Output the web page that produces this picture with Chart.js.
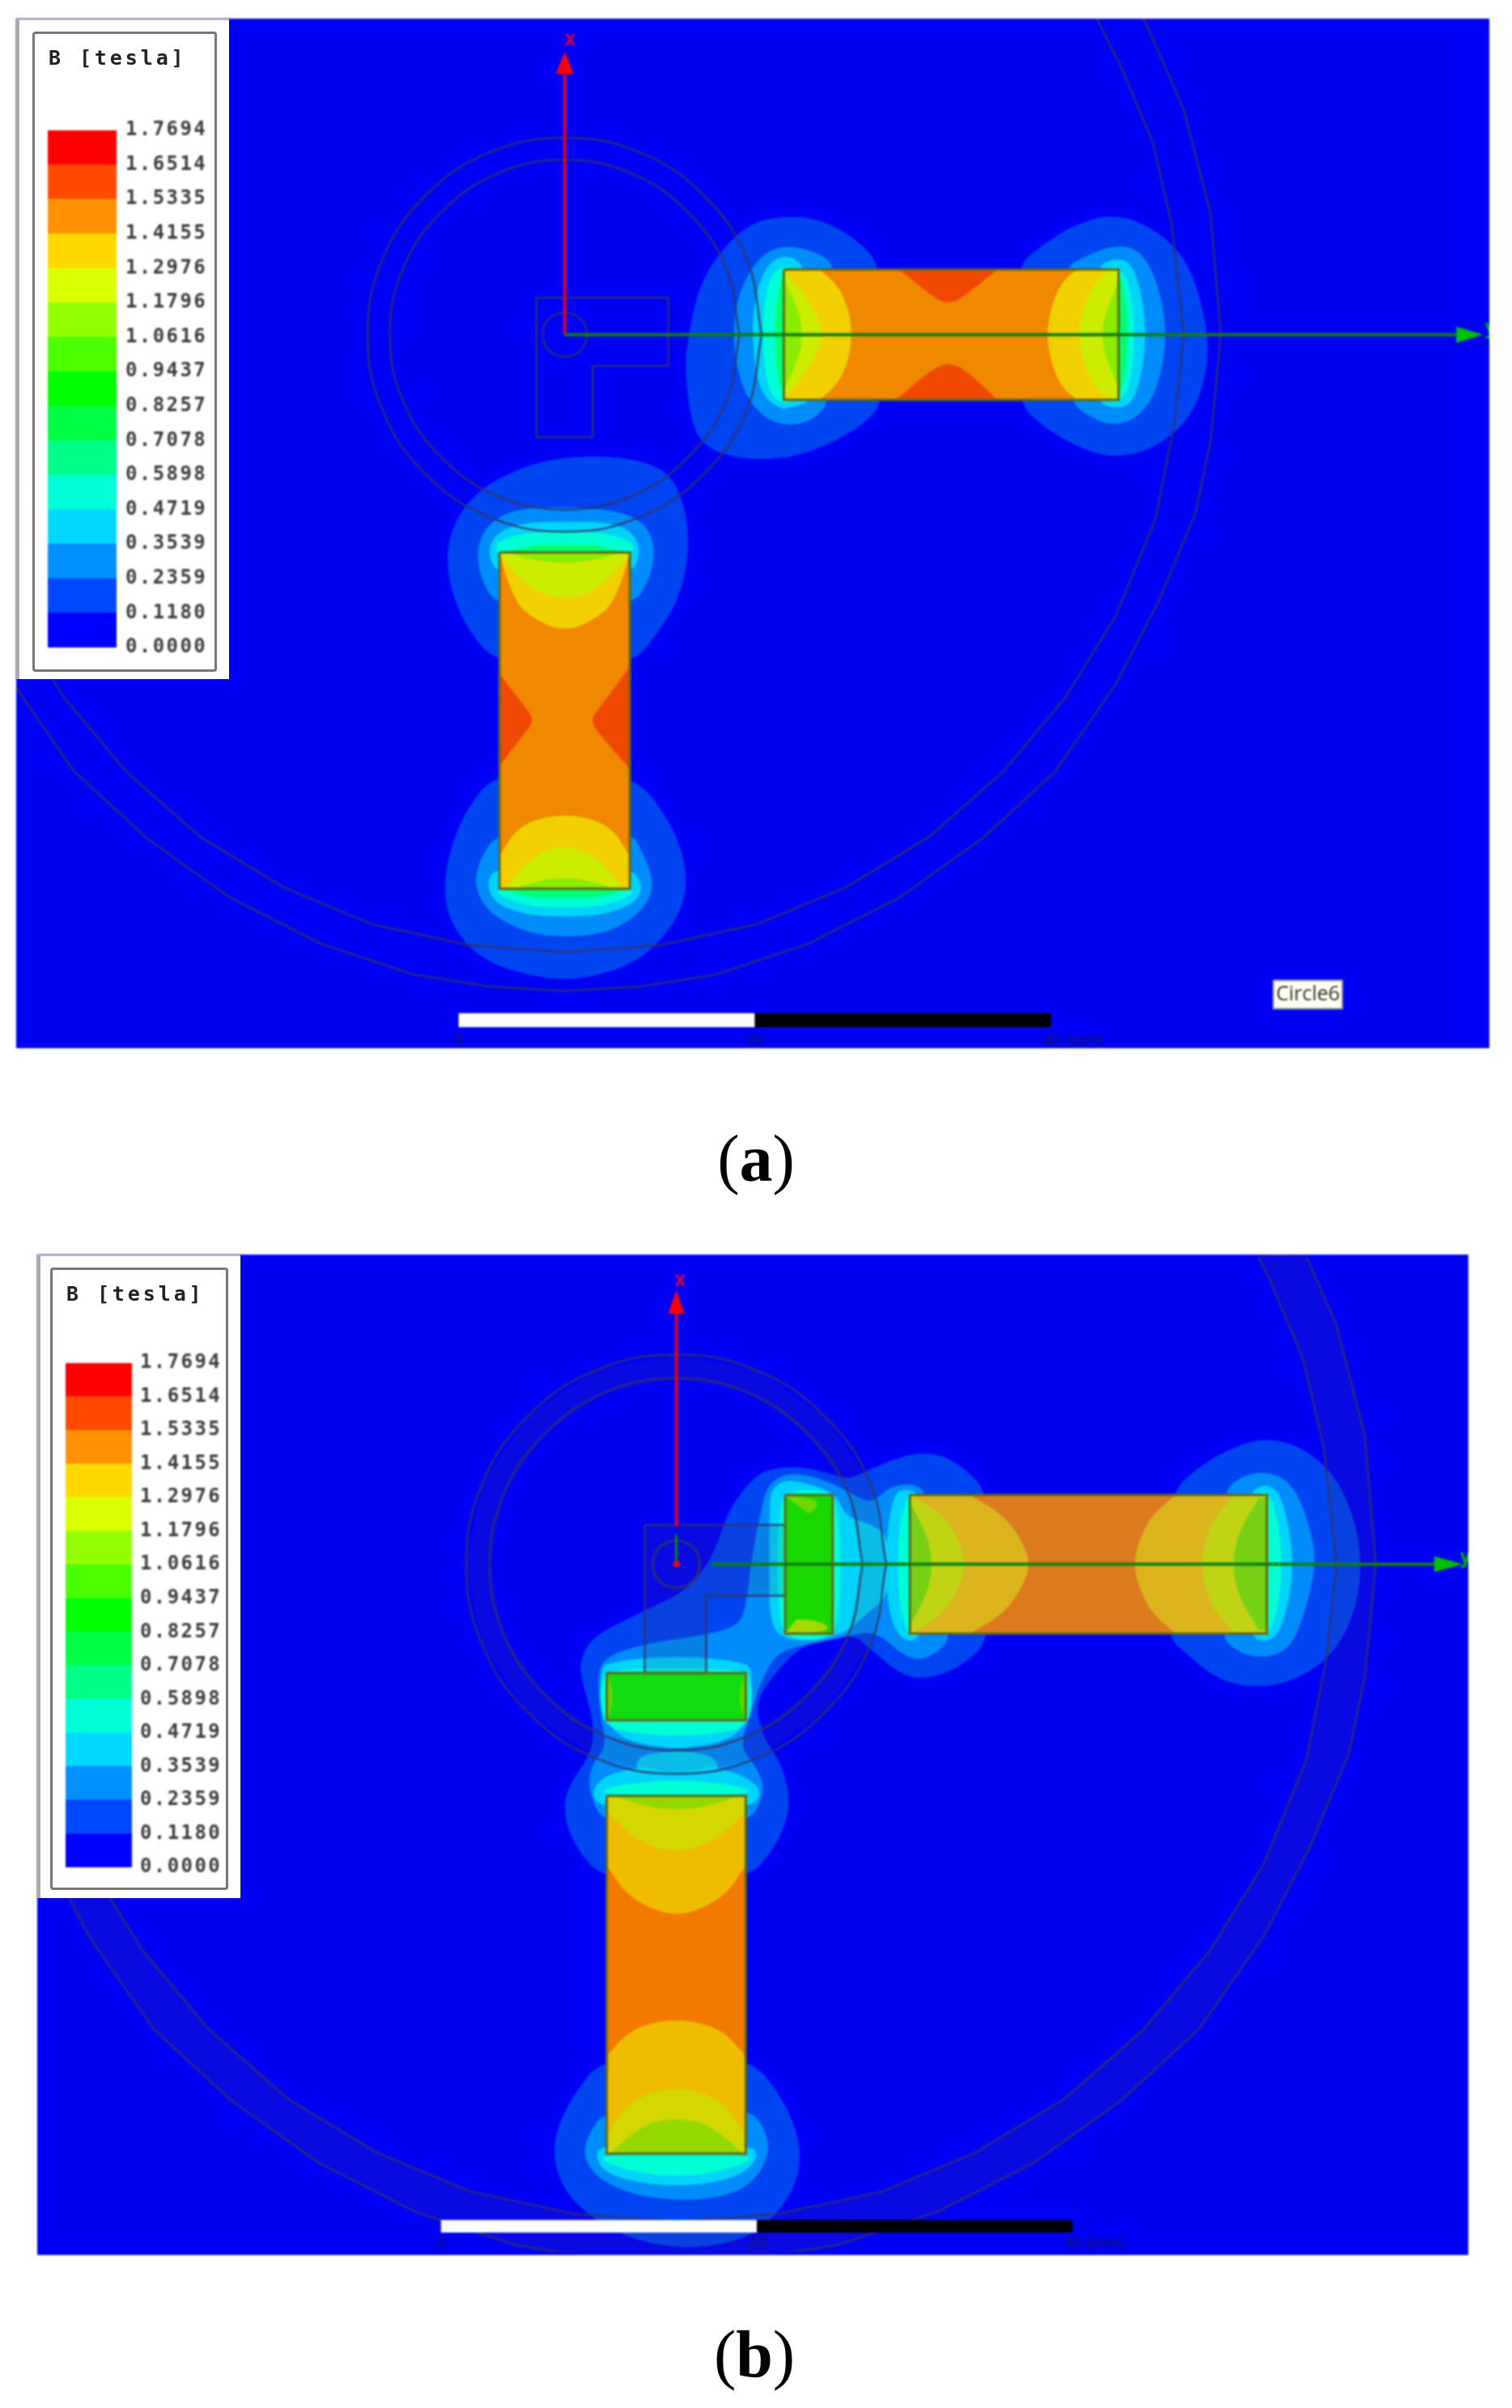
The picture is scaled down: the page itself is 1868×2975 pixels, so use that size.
<!DOCTYPE html>
<html><head><meta charset="utf-8">
<script src="https://cdn.jsdelivr.net/npm/chart.js@4"></script>
<style>
html,body{margin:0;padding:0;background:#fff;width:1868px;height:2975px;overflow:hidden}
canvas{position:absolute;filter:blur(0.8px)}
.wb{position:absolute;background:#fff;box-sizing:border-box;border-left:4px solid #aaa;border-top:2px solid #bbb}
.bx{position:absolute;box-sizing:border-box;border:3px solid #777;border-radius:4px;pointer-events:none}
.ttl{position:absolute;font:bold 25px "DejaVu Sans Mono",monospace;letter-spacing:3.9px;color:#222;white-space:pre;filter:blur(0.6px)}
.cap{position:absolute;font-family:"Liberation Serif",serif;font-size:82px;line-height:1;color:#000;transform:translateX(-50%)}
.cap b{font-weight:bold}
</style></head><body>
<div id="root"></div>
<script>
/* ---------- legend ---------- */
const levelLabels=["1.7694","1.6514","1.5335","1.4155","1.2976","1.1796","1.0616","0.9437","0.8257","0.7078","0.5898","0.4719","0.3539","0.2359","0.1180","0.0000"];
const bandColors=["#ff0000","#ff4a00","#ff9000","#ffd800","#dcff00","#94ff00","#4cff00","#00ff00","#00ff44","#00ff88","#00ffd8","#00d8ff","#0090ff","#0048ff","#0000ff"];
const legendTitle="B [tesla]";

/* ---------- shared geometry, millimetres ---------- */
const bigRingOuter=[[38.9,21.8],[41.8,15.2],[43.6,8.2],[44.3,0],[43.6,-7.2],[42.6,-12],[40.1,-18],[37.2,-23.6],[33.1,-29.5],[28.2,-34],[22.6,-38],[16.5,-41.1],[10.2,-43.2],[5.1,-44],[0,-44.3],[-5.1,-44],[-10.2,-43.2],[-16.5,-41.1],[-22.6,-38],[-28.2,-34],[-33.1,-29.5],[-37.2,-23.6],[-40.1,-18],[-42.6,-12]];
const bigRingInner=[[35.8,21.6],[37.6,18],[39.7,13],[41,7.4],[41.8,0],[41.2,-5.8],[39.9,-12.4],[37.2,-19],[33.8,-24.5],[29.6,-29.5],[24.6,-33.9],[19,-37.3],[13,-39.8],[6.5,-41.2],[0,-41.7],[-6.5,-41.2],[-13,-39.8],[-19,-37.3],[-24.6,-33.9],[-29.6,-29.5],[-33.8,-24.5],[-37.2,-19],[-39.9,-12.4]];
const rotorOuter=[[13.3,0],[12.3,5.1],[9.4,9.4],[5.1,12.3],[0,13.3],[-5.1,12.3],[-9.4,9.4],[-12.3,5.1],[-13.3,0],[-12.3,-5.1],[-9.4,-9.4],[-5.1,-12.3],[0,-13.3],[5.1,-12.3],[9.4,-9.4],[12.3,-5.1],[13.3,0]];
const rotorInner=[[11.8,0],[10.9,4.5],[8.3,8.3],[4.5,10.9],[0,11.8],[-4.5,10.9],[-8.3,8.3],[-10.9,4.5],[-11.8,0],[-10.9,-4.5],[-8.3,-8.3],[-4.5,-10.9],[0,-11.8],[4.5,-10.9],[8.3,-8.3],[10.9,-4.5],[11.8,0]];
const shaftHole=[[1.5,0],[1.39,.57],[1.06,1.06],[.57,1.39],[0,1.5],[-.57,1.39],[-1.06,1.06],[-1.39,.57],[-1.5,0],[-1.39,-.57],[-1.06,-1.06],[-.57,-1.39],[0,-1.5],[.57,-1.39],[1.06,-1.06],[1.39,-.57],[1.5,0]];
const coilHorizontal=[[14.8,4.4],[37.4,4.4],[37.4,-4.4],[14.8,-4.4],[14.8,4.4]];
const coilVertical=[[-4.4,-14.7],[4.4,-14.7],[4.4,-37.4],[-4.4,-37.4],[-4.4,-14.7]];

/* ---------- panel (a) ---------- */
const aLShape=[[-1.9,2.5],[7,2.5],[7,-2.1],[1.9,-2.1],[1.9,-6.9],[-1.9,-6.9],[-1.9,2.5]];
const aL1Left=[[21.6,4.5],[19.3,6.8],[16.8,7.9],[14.7,8],[12.7,7.6],[10.7,5.9],[9.1,3.4],[8.4,.2],[8.1,-2.1],[8.5,-5.8],[9.4,-7.6],[11.9,-8.4],[14.7,-8.4],[17.5,-7.6],[20.3,-6],[21.6,-4.4]];
const aL1Right=[[30.4,-4.4],[32.5,-6.4],[35.1,-7.8],[37.1,-8.3],[39.6,-7.8],[42.2,-5.8],[43.4,-2.6],[43.4,.6],[42.2,4.8],[40.1,7],[37.3,8.2],[34.5,7.5],[32,5.9],[30.4,4.4]];
const aL1Top=[[-4.4,-22.4],[-6.6,-19.9],[-7.9,-16.7],[-7.9,-13.5],[-6.1,-10.6],[-2.5,-8.7],[1.5,-8.1],[5.6,-8.5],[7.6,-9.9],[8.5,-13.5],[7.9,-17.6],[6.1,-20.4],[4.4,-22.4]];
const aL1Bottom=[[-4.4,-29.3],[-6.9,-32.3],[-8.2,-36.4],[-7.9,-39.6],[-5.6,-42.3],[-1.5,-43.5],[1.5,-43.5],[5.1,-42.3],[7.6,-39.6],[8.4,-36.8],[7.4,-33.2],[4.4,-29.3]];
const aL2Left=[[18.3,4.4],[17.5,5.4],[15,6.1],[13.2,5.4],[11.7,2.9],[11.3,-.3],[11.9,-3.5],[13.2,-5.5],[15,-6.2],[16.8,-5.8],[18,-4.4]];
const aL2Right=[[33.8,4.4],[34.5,5],[37.1,6.1],[38.9,5.7],[40.1,3.4],[40.7,0],[40.1,-3.5],[38.9,-5.5],[37.1,-6.2],[35.3,-5.5],[34,-4.4]];
const aL2Top=[[-4.4,-18.6],[-5.8,-16.3],[-5.9,-14],[-4.8,-12.4],[-2.5,-11.6],[2.5,-11.7],[5.1,-12.4],[6.1,-14],[5.9,-16.3],[4.4,-18.6]];
const aL2Bottom=[[-4.4,-33.4],[-5.8,-35.5],[-6.1,-37.3],[-5.1,-39.1],[-2.5,-40.4],[0,-40.7],[3,-40.4],[5.3,-38.9],[6.1,-37.1],[5.3,-35],[4.4,-33.4]];
const aL3Left=[[16.3,4.4],[15.5,5.2],[14.5,5.3],[13.5,4.5],[12.7,2],[12.7,-1.2],[13.2,-3.9],[14.5,-5.1],[15.7,-4.8],[16.8,-4.4]];
const aL3Right=[[35.6,4.4],[37.3,5.3],[38.6,4.5],[39.4,0],[38.6,-4.4],[37.3,-5.1],[35.6,-4.4]];
const aL3Top=[[-4.4,-16.3],[-5.2,-14.9],[-4.8,-13.5],[-3,-12.7],[0,-12.6],[3.3,-12.7],[4.8,-13.5],[5.1,-14.9],[4.4,-16.3]];
const aL3Bottom=[[-4.4,-35.9],[-5.3,-36.8],[-4.8,-38.4],[-2.5,-39.2],[0,-39.3],[2.5,-39.2],[4.8,-38.4],[5.3,-37.1],[4.4,-35.9]];
const aL4Left=[[15.5,4.4],[14.8,4.7],[13.7,3.8],[13.3,0],[13.7,-3.9],[14.8,-4.7],[15.5,-4.4]];
const aL4Right=[[36.6,4.4],[37.3,4.7],[38.2,3.4],[38.5,0],[38.2,-3.5],[37.3,-4.7],[36.6,-4.4]];
const aL4Top=[[-4.4,-15],[-4.8,-14.1],[-3,-13.4],[0,-13.3],[3,-13.4],[4.8,-14.1],[4.4,-15]];
const aL4Bottom=[[-4.4,-37.3],[-4.6,-37.8],[-2.5,-38.6],[0,-38.7],[2.5,-38.6],[4.7,-37.8],[4.4,-37.3]];
const aL5Left=[[15.5,4.4],[14.9,4.6],[14.3,2.5],[14.2,0],[14.3,-2.5],[14.9,-4.6],[15.5,-4.4]];
const aL5Right=[[36.8,4.4],[37.3,4.6],[37.9,2.5],[38,0],[37.9,-2.5],[37.3,-4.6],[36.8,-4.4]];
const aL5Top=[[-4.6,-14.8],[-2,-14.2],[2,-14.2],[4.6,-14.8]];
const aL5Bottom=[[-4.6,-37.4],[-2,-38],[2,-38],[4.6,-37.4]];
const aHRightYellow=[[37.4,4.4],[34.6,4.4],[34.6,4.4],[33.6,3.6],[32.9,2.1],[32.5,0],[32.9,-2.1],[33.6,-3.6],[34.6,-4.4],[34.6,-4.4],[37.4,-4.4]];
const aHRightLime=[[37.4,4.4],[36.4,4.3],[35.5,3],[34.9,1.4],[34.7,0],[34.9,-1.4],[35.5,-3],[36.4,-4.3],[37.4,-4.4]];
const aHRightGreen=[[37.4,3.6],[36.6,1.8],[36.2,0],[36.6,-1.8],[37.4,-3.6]];
const aHLeftYellow=[[14.8,4.4],[17.2,4.4],[17.2,4.4],[18.5,3.3],[19.2,1.6],[19.4,0],[19.2,-1.6],[18.5,-3.3],[17.2,-4.4],[17.2,-4.4],[14.8,-4.4]];
const aHLeftLime=[[14.8,4.3],[16,3],[17.1,1.2],[17.4,0],[17.1,-1.2],[16,-3],[14.8,-4.3]];
const aHLeftGreen=[[14.8,3.8],[15.8,1.7],[16.1,0],[15.8,-1.7],[14.8,-3.8]];
const aHNotchTop=[[22.6,4.4],[24.4,2.9],[25.9,1.95],[27.4,2.9],[29.2,4.4]];
const aHNotchBottom=[[22.4,-4.4],[24.4,-2.6],[25.9,-1.8],[27.4,-2.6],[29.2,-4.4]];
const aVTopYellow=[[-4.4,-14.7],[-3.6,-17.9],[-1.8,-19.4],[0,-20],[1.8,-19.4],[3.6,-17.9],[4.4,-14.7]];
const aVTopLime=[[-4.4,-14.8],[-2.8,-17],[0,-18],[2.8,-17],[4.4,-14.8]];
const aVTopGreen=[[-3.8,-14.7],[0,-16.1],[3.8,-14.7]];
const aVBottomYellow=[[-4.4,-37.4],[-4.4,-35.2],[-4.4,-35.2],[-3,-33],[0,-32.3],[3,-33],[4.4,-35.2],[4.4,-35.2],[4.4,-37.4]];
const aVBottomLime=[[-4,-37.4],[-2.4,-35.3],[0,-34.4],[2.4,-35.3],[4,-37.4]];
const aVBottomGreen=[[-3.3,-37.4],[0,-36],[3.3,-37.4]];
const aVNotchLeft=[[-4.4,-22.9],[-2.8,-25],[-2,-26],[-2.8,-27],[-4.4,-29.1]];
const aVNotchRight=[[4.4,-22.4],[2.5,-25],[1.7,-26],[2.5,-27.2],[4.4,-29.3]];
const aRedAxis=[[0,0],[0,17.6]];
const aRedHead=[[-.6,17.6],[.6,17.6],[0,19.1]];
const aGreenAxis=[[0,0],[60.2,0]];
const aGreenHead=[[60.2,.55],[60.2,-.55],[62,0]];
const aBarWhite=[[-7.16,-45.8],[12.84,-45.8],[12.84,-46.75],[-7.16,-46.75]];
const aBarBlack=[[12.84,-45.8],[32.84,-45.8],[32.84,-46.75],[12.84,-46.75]];
const aTipBox=[[47.85,-43.6],[52.5,-43.6],[52.5,-45.5],[47.85,-45.5],[47.85,-43.6]];

/* ---------- panel (b) ---------- */
const bLShape=[[-2,2.5],[6.9,2.5],[6.9,-2],[1.9,-2],[1.9,-6.9],[-2,-6.9],[-2,2.5]];
const coilSmallV=[[6.9,4.4],[9.9,4.4],[9.9,-4.4],[6.9,-4.4],[6.9,4.4]];
const coilSmallH=[[-4.4,-6.9],[4.4,-6.9],[4.4,-9.9],[-4.4,-9.9],[-4.4,-6.9]];
const bL1Right=[[31.1,4.35],[33.2,6.3],[35.4,7.5],[37.3,8],[39.6,7.5],[42,5.4],[43.4,1.4],[43.2,-2.5],[41.8,-5.5],[39.6,-7.2],[37,-7.9],[34.4,-7.4],[32.5,-5.9],[30.9,-4.4]];
const bL1Main=[[19.7,4.35],[18.8,5.6],[17.1,6.9],[15.2,7.1],[13.3,6.5],[11.4,5.6],[10.7,5.4],[8.3,6.2],[6,6.1],[4.9,5.5],[3.3,3.5],[2.4,.6],[.8,-1.6],[-2.1,-3],[-5.2,-4.5],[-6.1,-6],[-6,-7.4],[-5.4,-9.3],[-5.2,-11],[-5.6,-12.3],[-6.8,-14],[-7.2,-15.7],[-6.4,-18],[-4.4,-20.2],[4.4,-20.2],[6.4,-17.8],[7.3,-15.3],[6.7,-12.7],[5.5,-11],[5,-8.9],[6,-7.2],[7.6,-5.5],[8.8,-4.9],[11.2,-4.4],[12.4,-5.5],[14.5,-7.2],[16.4,-7.2],[18.3,-6.3],[20,-4.6]];
const bL1Bottom=[[-4.4,-31],[-6.8,-34],[-7.9,-36.8],[-7.3,-39.6],[-4.9,-41.9],[-1.6,-43.2],[1.7,-43.4],[5,-42.6],[7.4,-40],[8,-37.2],[6.9,-34],[4.4,-31]];
const bL2Right=[[34.6,4.35],[35.4,5.4],[37.3,6],[39.2,5],[40.3,1.8],[40.5,-.3],[39.6,-3.8],[38.7,-5.5],[37,-6],[35.4,-5.5],[34.4,-4.4]];
const bL2Main=[[15.9,4.35],[15.2,5.1],[13.6,5],[12.4,3.9],[11.6,4.2],[10.2,5],[8.3,5.7],[6.6,5.7],[5.7,4.8],[5.4,3.5],[4.8,.6],[4.4,-2.9],[3.8,-4],[1.2,-4.6],[-1.8,-5],[-4.7,-5.9],[-5,-7.6],[-4.8,-9.7],[-4.4,-11.6],[-5.4,-12.7],[-5.6,-14.4],[-4.4,-16.8],[4.4,-16.8],[5.7,-14.4],[5,-12.7],[4,-11.6],[4.8,-9.3],[5.3,-7.6],[6.4,-5.5],[8.8,-5],[10.7,-4.6],[12.6,-4.2],[14.5,-5.9],[15.9,-6.1],[17.8,-4.4]];
const bL2Bottom=[[-4.4,-34.5],[-5.6,-36.2],[-5.9,-37.6],[-4.9,-39.1],[-2.1,-40.2],[1.7,-40.4],[4.6,-39.6],[6,-37.4],[5.5,-35.5],[4.4,-34.5]];
const bL3Right=[[36.1,4.35],[37.3,5.2],[38.4,4.35],[39.2,0],[38.4,-4.2],[37.3,-5],[36.1,-4.4]];
const bL3Left=[[15.5,4.35],[14.7,4.8],[13.8,4.6],[13.3,1.8],[13.3,-2],[13.8,-4.2],[14.7,-5],[15.7,-4.4]];
const bL3Slot=[[10.2,4.35],[8.8,5],[6.9,5.4],[6.1,4.8],[5.9,4],[5.9,.1],[5.9,-3.8],[6.9,-4.8],[8.8,-4.8],[10.7,-4.4],[12.2,-3],[13.5,-2],[13.5,1.8],[12.2,2.6],[10.7,3]];
const bL3Tooth=[[-4.4,-6.3],[-4.7,-6.6],[-4.8,-7.6],[-4.8,-9.3],[-3.5,-11.2],[0,-11.8],[3.6,-11.2],[4.8,-9.3],[4.8,-7.6],[4.7,-6.6],[4.4,-6.3],[2,-5.9],[-2,-5.9]];
const bL3Pocket=[[-2.1,-11.9],[-2.8,-13.1],[0,-13.6],[2.9,-13.3],[2.2,-11.9]];
const bL3Top=[[-4.4,-15.5],[-5.4,-14.8],[-4.9,-13.6],[-2.8,-12.9],[0,-12.8],[2.9,-12.9],[5,-13.8],[5.4,-14.8],[4.4,-15.5]];
const bL3Bottom=[[-4.4,-36.8],[-5.2,-37.4],[-4.5,-38.7],[-1.6,-39.4],[1.7,-39.4],[4.3,-38.7],[5.3,-37.4],[4.4,-36.8]];
const bL4Left=[[15.4,4.4],[14.8,4.6],[14.2,3],[14,0],[14.2,-3],[14.8,-4.7],[15.4,-4.4]];
const bL4Right=[[36.8,4.4],[37.4,4.7],[38.1,3],[38.4,0],[38.1,-3],[37.4,-4.7],[36.8,-4.4]];
const bL4Slot=[[6.9,4.7],[9.9,4.7],[10.3,3],[10.4,0],[10.3,-3],[9.9,-4.8],[6.9,-4.8],[6.5,-3],[6.4,0],[6.5,3]];
const bL4Tooth=[[-4.4,-6.6],[4.4,-6.6],[4.7,-7.5],[4.8,-9],[4.4,-10.4],[2,-10.8],[0,-10.9],[-2,-10.8],[-4.4,-10.4],[-4.8,-9],[-4.7,-7.5]];
const bL4Top=[[-4.4,-14.7],[-4.7,-14.2],[-2,-13.8],[0,-13.7],[2,-13.8],[4.7,-14.2],[4.4,-14.7]];
const bL4Bottom=[[-4.4,-37.4],[-4.8,-37.9],[-2,-38.7],[0,-38.8],[2,-38.7],[4.8,-37.9],[4.4,-37.4]];
const bHLeftYellow=[[14.8,4.4],[18.6,4.4],[18.6,4.4],[20.8,3.1],[22,1.3],[22.4,0],[22,-1.3],[20.8,-3.1],[18.6,-4.4],[18.6,-4.4],[14.8,-4.4]];
const bHLeftLime=[[14.8,4.4],[16.6,3.5],[17.9,1.6],[18.3,0],[17.9,-1.6],[16.6,-3.5],[14.8,-4.4]];
const bHLeftGreen=[[14.8,3.9],[15.8,2.2],[16.3,0],[15.8,-2.2],[14.8,-3.9]];
const bHRightYellow=[[37.4,4.4],[31.6,4.4],[31.6,4.4],[30,3],[29.2,1.2],[29,0],[29.2,-1.2],[30,-3],[31.6,-4.4],[31.6,-4.4],[37.4,-4.4]];
const bHRightLime=[[37.4,4.3],[35.3,4.3],[35.3,4.3],[34,2.9],[33.4,1.2],[33.3,0],[33.4,-1.2],[34,-2.9],[35.3,-4.3],[35.3,-4.3],[37.4,-4.3]];
const bHRightGreen=[[37.4,4.2],[36.9,4.2],[36.9,4.2],[35.8,2.4],[35.35,1],[35.3,0],[35.35,-1],[35.8,-2.4],[36.9,-4.2],[36.9,-4.2],[37.4,-4.2]];
const bVTopYellow=[[-4.4,-14.7],[-4.4,-19.1],[-4.4,-19.1],[-3,-21.2],[0,-22.5],[3,-21.2],[4.4,-19.1],[4.4,-19.1],[4.4,-14.7]];
const bVTopLime=[[-4.4,-14.7],[-4.4,-15.7],[-4.4,-15.7],[-2.6,-17.5],[0,-18.4],[2.6,-17.5],[4.4,-15.7],[4.4,-15.7],[4.4,-14.7]];
const bVTopGreen=[[-3.8,-14.7],[0,-16.4],[3.8,-14.7]];
const bVBottomYellow=[[-4.4,-37.4],[-4.4,-31.2],[-4.4,-31.2],[-2.8,-29.4],[0,-28.8],[2.8,-29.4],[4.4,-31.2],[4.4,-31.2],[4.4,-37.4]];
const bVBottomLime=[[-4.4,-37.4],[-4.4,-36.2],[-4.4,-36.2],[-2.8,-33.9],[0,-33.1],[2.8,-33.9],[4.4,-36.2],[4.4,-36.2],[4.4,-37.4]];
const bVBottomGreen=[[-4.2,-37.4],[-2.4,-35.6],[0,-35.1],[2.4,-35.6],[4.2,-37.4]];
const bSlotTop=[[6.9,4.3],[9.9,4.3],[8.4,3.2]];
const bSlotBottom=[[6.9,-4.4],[9.9,-4.4],[9.2,-3.5],[7.6,-3.5]];
const bToothLeft=[[-4.4,-7],[-3.6,-8.4],[-4.4,-9.8]];
const bToothRight=[[4.4,-7],[3.6,-8.4],[4.4,-9.8]];
const bRedAxis=[[0,2.4],[0,15.9]];
const bRedHead=[[-.5,15.9],[.5,15.9],[0,17.4]];
const bGreenStub=[[0,0],[0,1.9]];
const bGreenAxis=[[2.3,0],[48,0]];
const bGreenHead=[[48,.5],[48,-.5],[49.8,0]];
const bOriginDot=[[0,0]];
const bBarWhite=[[-14.9,-41.6],[5.1,-41.6],[5.1,-42.4],[-14.9,-42.4]];
const bBarBlack=[[5.1,-41.6],[25.1,-41.6],[25.1,-42.4],[5.1,-42.4]];

/* ---------- builders ---------- */
const toXY=a=>a.map(([x,y])=>({x,y}));
const F=(pts,color,smooth="loop")=>({data:toXY(pts),polyFill:color,smooth,showLine:false,pointRadius:0});
const L=(pts,color,width=2.5,tension=0)=>({data:toXY(pts),showLine:true,borderColor:color,borderWidth:width,tension,pointRadius:0,fill:false});

const C1="#0044f2",C2="#008cfa",C3="#00d4fa",C4="#00ffd4",C5="#00ff70";
const LINE="rgba(52,52,100,0.85)",COILEDGE="#5f6a1a";

const fillPlugin={id:"polyFill",beforeDatasetDraw(chart,args){
  const ds=chart.data.datasets[args.index]; if(!ds.polyFill) return;
  const p=chart.getDatasetMeta(args.index).data, c=chart.ctx, n=p.length;
  const m=(a,b)=>[(a.x+b.x)/2,(a.y+b.y)/2];
  c.save(); c.fillStyle=ds.polyFill; c.beginPath();
  if(ds.smooth==="loop"){
    const s=m(p[n-1],p[0]); c.moveTo(s[0],s[1]);
    for(let i=0;i<n;i++){const e=m(p[i],p[(i+1)%n]); c.quadraticCurveTo(p[i].x,p[i].y,e[0],e[1]);}
  } else if(ds.smooth==="open"){
    c.moveTo(p[0].x,p[0].y);
    for(let i=1;i<n-1;i++){const e=i<n-2?m(p[i],p[i+1]):[p[n-1].x,p[n-1].y]; c.quadraticCurveTo(p[i].x,p[i].y,e[0],e[1]);}
  } else { p.forEach((q,i)=>i?c.lineTo(q.x,q.y):c.moveTo(q.x,q.y)); }
  c.closePath(); c.fill(); c.restore();
}};
const textPlugin={id:"textMarks",afterDraw(chart,args,opts){
  const c=chart.ctx,X=chart.scales.x,Y=chart.scales.y; c.save();
  (opts.items||[]).forEach(t=>{c.font=t.font;c.fillStyle=t.color;c.textAlign=t.align||"center";c.textBaseline="middle";
    c.fillText(t.text,X.getPixelForValue(t.x),Y.getPixelForValue(t.y));});
  c.restore();
}};
const root=document.getElementById("root");
function el(tag,cls,style,html){const e=document.createElement(tag);e.className=cls||"";Object.assign(e.style,style);if(html)e.innerHTML=html;root.appendChild(e);return e;}
function px(n){return n+"px";}

function panel(box,range,layers,items){
  const cv=el("canvas","",{left:px(box.l),top:px(box.t),background:"#0000f5"});
  cv.width=box.w;cv.height=box.h;cv.style.width=px(box.w);cv.style.height=px(box.h);
  new Chart(cv,{type:"scatter",data:{datasets:layers.slice().reverse()},plugins:[fillPlugin,textPlugin],
    options:{responsive:false,animation:false,devicePixelRatio:1,events:[],layout:{padding:0},
      scales:{x:{type:"linear",display:false,min:range.x0,max:range.x1},y:{type:"linear",display:false,min:range.y0,max:range.y1}},
      plugins:{legend:{display:false},tooltip:{enabled:false},title:{display:false},textMarks:{items}}}});
}
function legend(g){
  el("div","wb",{left:px(g.wl),top:px(g.wt),width:px(g.ww),height:px(g.wh)});
  const cv=el("canvas","",{left:px(g.bl),top:px(g.bt)});
  cv.width=g.bw;cv.height=g.bh;cv.style.width=px(g.bw);cv.style.height=px(g.bh);
  const sets=bandColors.slice().reverse().map((col,i)=>({label:levelLabels[15-i],data:[1],backgroundColor:col,borderWidth:0,barPercentage:1,categoryPercentage:1,stack:"s"}));
  new Chart(cv,{type:"bar",data:{labels:["B"],datasets:sets},
    plugins:[{id:"spacing",beforeDraw(ch){ch.ctx.letterSpacing="2.4px";}}],
    options:{responsive:false,animation:false,devicePixelRatio:1,events:[],
      layout:{padding:{left:g.pl,top:g.pt,bottom:g.pb,right:0}},
      scales:{x:{display:false,stacked:true},
        y:{stacked:true,position:"right",min:0,max:15,grid:{display:false,drawTicks:false},border:{display:false},
          afterFit(s){s.width=g.ax;},
          ticks:{stepSize:1,autoSkip:false,padding:g.tp,color:"#3c3c3c",maxRotation:0,font:{family:"DejaVu Sans Mono",size:24,weight:"bold"},callback:v=>levelLabels[15-v]}}},
      plugins:{legend:{display:false},tooltip:{enabled:false},title:{display:false}}}});
  el("div","bx",{left:px(g.bl),top:px(g.bt),width:px(g.bw),height:px(g.bh)});
  el("div","ttl",{left:px(g.tx),top:px(g.ty)},legendTitle);
}

/* ---------- panel a ---------- */
const aLayers=[
 F(aL1Left,C1),F(aL1Right,C1),F(aL1Top,C1),F(aL1Bottom,C1),
 F(aL2Left,C2),F(aL2Right,C2),F(aL2Top,C2),F(aL2Bottom,C2),
 F(aL3Left,C3),F(aL3Right,C3),F(aL3Top,C3),F(aL3Bottom,C3),
 F(aL4Left,C4),F(aL4Right,C4),F(aL4Top,C4),F(aL4Bottom,C4),
 F(aL5Left,C5),F(aL5Right,C5),F(aL5Top,C5,"sharp"),F(aL5Bottom,C5,"sharp"),
 F(coilHorizontal,"#f08800","sharp"),F(coilVertical,"#f08800","sharp"),
 F(aHNotchTop,"#f04800","open"),F(aHNotchBottom,"#f04800","open"),F(aVNotchLeft,"#f04800","open"),F(aVNotchRight,"#f04800","open"),
 F(aHRightYellow,"#f2d000","open"),F(aHLeftYellow,"#f2d000","open"),F(aVTopYellow,"#f2d000","open"),F(aVBottomYellow,"#f2d000","open"),
 F(aHRightLime,"#ccec00","open"),F(aHLeftLime,"#ccec00","open"),F(aVTopLime,"#ccec00","open"),F(aVBottomLime,"#ccec00","open"),
 F(aHRightGreen,"#8cec00","open"),F(aHLeftGreen,"#8cec00","open"),F(aVTopGreen,"#8cec00","open"),F(aVBottomGreen,"#8cec00","open"),
 L(bigRingOuter,LINE),L(bigRingInner,LINE),L(rotorOuter,LINE,2.5,.4),L(rotorInner,LINE,2.5,.4),L(shaftHole,LINE,2.5,.4),L(aLShape,LINE),
 L(coilHorizontal,COILEDGE,3),L(coilVertical,COILEDGE,3),
 L(aRedAxis,"#dc0022",4),F(aRedHead,"#ff0000","sharp"),
 L(aGreenAxis,"#10800e",4),F(aGreenHead,"#00c000","sharp"),
 F(aBarWhite,"#ffffff","sharp"),F(aBarBlack,"#000000","sharp"),
 F(aTipBox,"#fffff2","sharp"),L(aTipBox,"#9a9a9a",2)
];
panel({l:20,t:23,w:1820,h:1272},{x0:-37.03,x1:62.43,y0:-48.17,y1:21.34},aLayers,[
 {text:"x",x:.36,y:19.9,color:"#d80040",font:"bold 24px 'DejaVu Sans Mono'"},
 {text:"y",x:62.1,y:.35,color:"#00b000",font:"bold 24px 'DejaVu Sans Mono'",align:"left"},
 {text:"0",x:-7.16,y:-47.7,color:"#16165e",font:"20px 'Liberation Sans'"},
 {text:"20",x:12.84,y:-47.7,color:"#16165e",font:"20px 'Liberation Sans'"},
 {text:"40 (mm)",x:32.3,y:-47.7,color:"#16165e",font:"20px 'Liberation Sans'",align:"left"},
 {text:"Circle6",x:50.18,y:-44.55,color:"#303030",font:"25px 'Open Sans'"}
]);
legend({wl:20,wt:23,ww:263,wh:816,bl:40,bt:39,bw:228,bh:791,pl:19,pt:122,pb:30,ax:124,tp:11,tx:60,ty:57});

/* ---------- panel b ---------- */
const bTint="rgba(60,60,120,0.15)";
const ringBand=(o,i)=>F(o.concat(i.slice().reverse()),bTint,"sharp");
const bLayers=[
 F(bL1Right,C1),F(bL1Main,C1),F(bL1Bottom,C1),
 F(bL2Right,C2),F(bL2Main,C2),F(bL2Bottom,C2),
 F(bL3Right,C3),F(bL3Left,C3),F(bL3Slot,C3),F(bL3Tooth,C3),F(bL3Pocket,C3),F(bL3Top,C3),F(bL3Bottom,C3),
 F(bL4Right,C4),F(bL4Left,C4),F(bL4Slot,C4),F(bL4Tooth,C4),F(bL4Top,C4),F(bL4Bottom,C4),
 F(coilHorizontal,"#dc7a1e","sharp"),F(coilVertical,"#f27a00","sharp"),F(coilSmallV,"#18d800","sharp"),F(coilSmallH,"#10dc10","sharp"),
 F(bHLeftYellow,"#dcb41e","open"),F(bHRightYellow,"#dcb41e","open"),F(bVTopYellow,"#f0bc00","open"),F(bVBottomYellow,"#f0bc00","open"),
 F(bHLeftLime,"#c0d414","open"),F(bHRightLime,"#c0d414","open"),F(bVTopLime,"#d4d800","open"),F(bVBottomLime,"#d4d800","open"),
 F(bHLeftGreen,"#78d014","open"),F(bHRightGreen,"#78d014","open"),F(bVTopGreen,"#94d800","open"),F(bVBottomGreen,"#94d800","open"),
 F(bSlotTop,"#6cd800","open"),F(bSlotBottom,"#a4d800","open"),F(bToothLeft,"#5cd800","open"),F(bToothRight,"#5cd800","open"),
 ringBand(bigRingOuter,bigRingInner),ringBand(rotorOuter,rotorInner),ringBand(bLShape,shaftHole),
 L(bigRingOuter,LINE),L(bigRingInner,LINE),L(rotorOuter,LINE,2.5,.4),L(rotorInner,LINE,2.5,.4),L(shaftHole,LINE,3,.4),L(bLShape,LINE),
 L(coilHorizontal,COILEDGE,3),L(coilVertical,COILEDGE,3),L(coilSmallV,COILEDGE,3),L(coilSmallH,COILEDGE,3),
 L(bGreenStub,"#10800e",3),
 L(bRedAxis,"#dc0022",4),F(bRedHead,"#ff0000","sharp"),
 L(bGreenAxis,"#10800e",4),F(bGreenHead,"#00c000","sharp"),
 {data:toXY(bOriginDot),showLine:false,pointRadius:4,pointBackgroundColor:"#ff0000",pointBorderWidth:0},
 F(bBarWhite,"#ffffff","sharp"),F(bBarBlack,"#000000","sharp")
];
panel({l:46,t:1550,w:1768,h:1236},{x0:-40.26,x1:49.95,y0:-43.62,y1:19.44},bLayers,[
 {text:"x",x:.24,y:17.95,color:"#d80040",font:"bold 24px 'DejaVu Sans Mono'"},
 {text:"y",x:49.6,y:.35,color:"#00b000",font:"bold 24px 'DejaVu Sans Mono'",align:"left"},
 {text:"0",x:-14.9,y:-43.1,color:"#16165e",font:"20px 'Liberation Sans'"},
 {text:"20",x:5.1,y:-43.1,color:"#16165e",font:"20px 'Liberation Sans'"},
 {text:"40 (mm)",x:24.6,y:-43.1,color:"#16165e",font:"20px 'Liberation Sans'",align:"left"}
]);
legend({wl:46,wt:1550,ww:251,wh:795,bl:62,bt:1566,bw:220,bh:769,pl:19,pt:118,pb:28,ax:119,tp:10,tx:82,ty:1584});

el("div","cap",{left:"934px",top:"1391px"},"(<b>a</b>)");
el("div","cap",{left:"932px",top:"2868px"},"(<b>b</b>)");
</script>
</body></html>
